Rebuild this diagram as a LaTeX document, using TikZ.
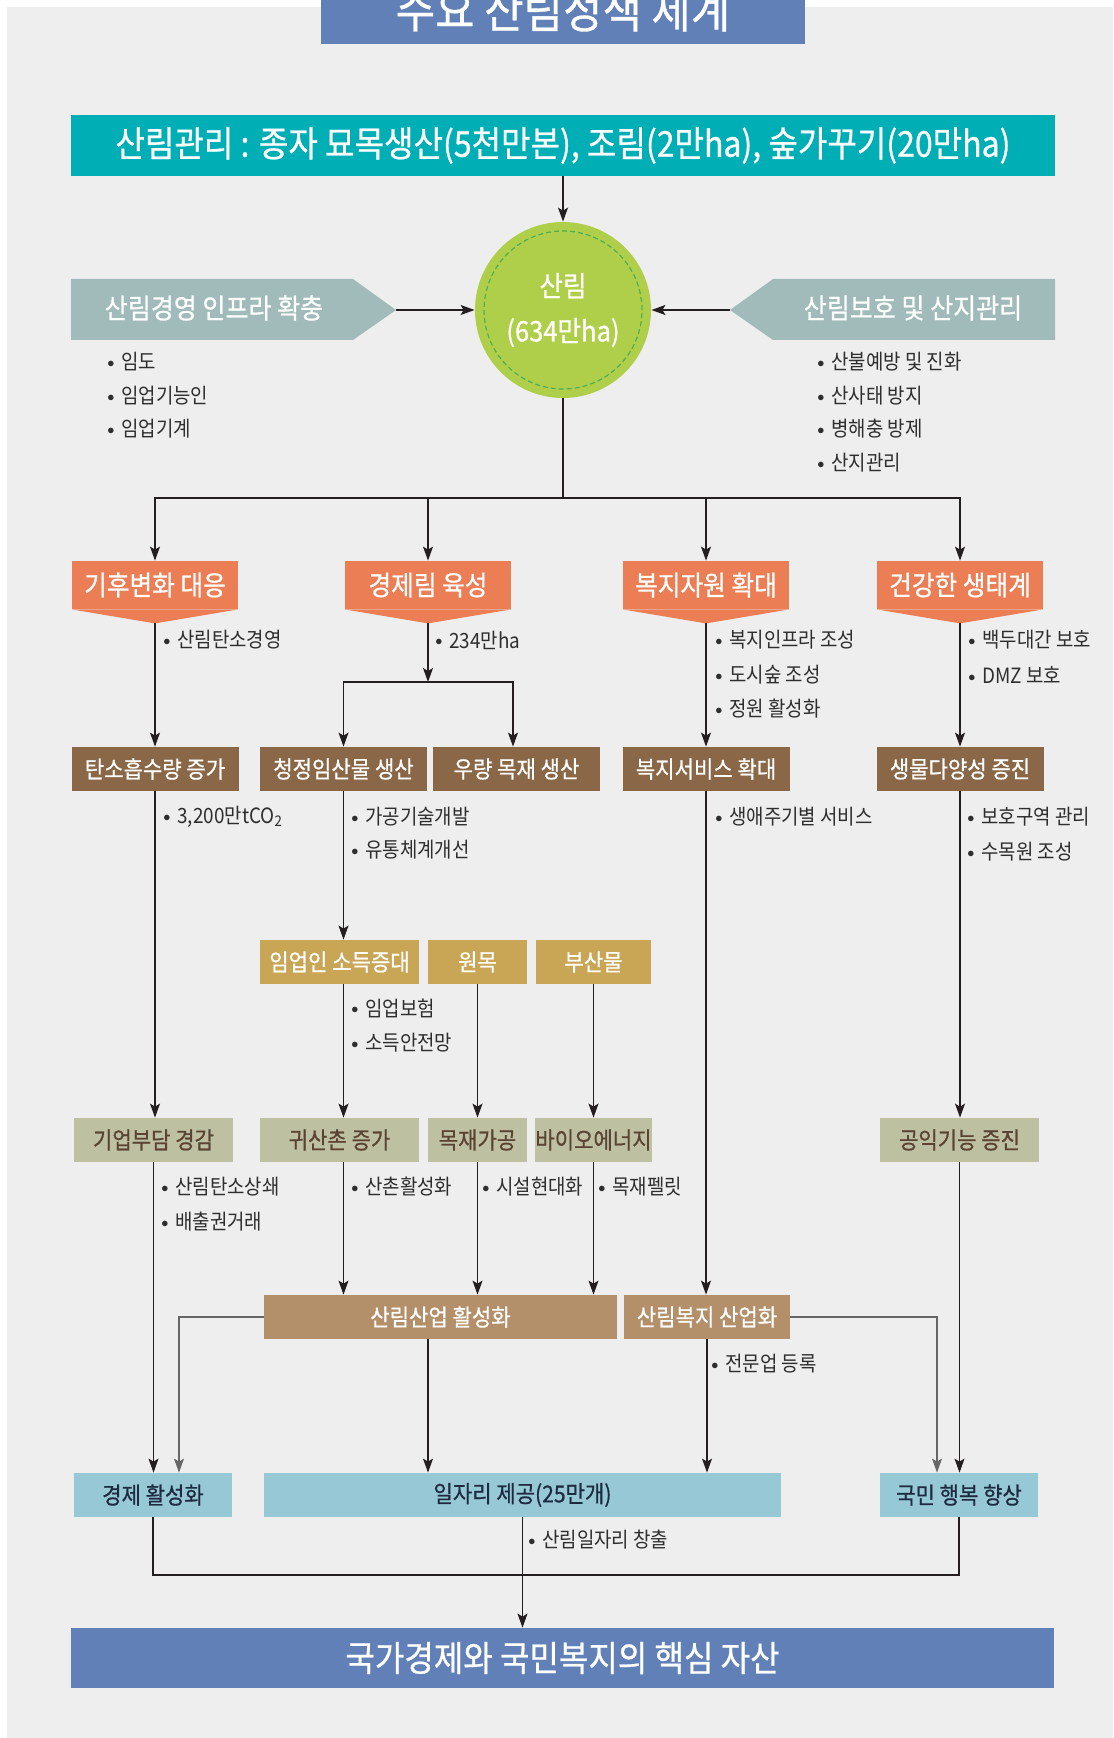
\documentclass[tikz,border=0pt]{standalone}
\usepackage{fontspec}
\newfontfamily\kr[FakeStretch=0.9]{Noto Sans CJK KR}
\newfontfamily\krm[FakeStretch=0.9,FakeBold=0.7]{Noto Sans CJK KR}
\usetikzlibrary{arrows.meta,calc}
\definecolor{cbg}{HTML}{EEEEEE}
\definecolor{ctitle}{HTML}{6180B7}
\definecolor{cteal}{HTML}{00AEB5}
\definecolor{ccircle}{HTML}{AFCF4A}
\definecolor{cdash}{HTML}{4FAE55}
\definecolor{cpent}{HTML}{A0BBBA}
\definecolor{corange}{HTML}{EC7E55}
\definecolor{cbrown}{HTML}{8A6747}
\definecolor{cgold}{HTML}{C9A556}
\definecolor{csage}{HTML}{BDC0A1}
\definecolor{ctan}{HTML}{B38F6A}
\definecolor{cblue}{HTML}{97C8D6}
\definecolor{ctxtbrown}{HTML}{5A4332}
\definecolor{cnavy}{HTML}{1E2A40}
\definecolor{ctext}{HTML}{2E2E2E}
\definecolor{cline}{HTML}{231F20}
\definecolor{cgline}{HTML}{666666}
\newcommand\mybul{\makebox[7pt][l]{\raisebox{0.2ex}{\scalebox{0.65}{$\bullet$}}}}
\begin{document}
\begin{tikzpicture}[x=0.5pt,y=-0.5pt,
  base/.style={inner sep=0pt, align=center},
  rowbox/.style={base, minimum height=22pt, font=\krm\fontsize{11.7}{13}\selectfont},
  brownbox/.style={rowbox, fill=cbrown, text=white},
  goldbox/.style={rowbox, fill=cgold, text=white},
  sagebox/.style={rowbox, fill=csage, text=ctxtbrown},
  tanbox/.style={rowbox, fill=ctan, text=white},
  bluebox/.style={rowbox, fill=cblue, text=cnavy},
  orangebox/.style={base, fill=corange, text=white, minimum height=24pt, minimum width=83pt, font=\krm\fontsize{13.7}{15}\selectfont},
  bigbox/.style={base, text=white, font=\krm\fontsize{17.8}{20}\selectfont},
  penttext/.style={base, text=white, font=\krm\fontsize{13.9}{15}\selectfont},
  bul/.style={anchor=west, inner sep=0pt, text=ctext, font=\kr\fontsize{10.5}{12}\selectfont},
  ln/.style={line width=0.65pt, draw=cline},
  arr/.style={ln, -{Stealth[length=7pt,width=5pt,inset=1.5pt]}},
  garr/.style={arr, draw=cgline}
]
\useasboundingbox (0,0) rectangle (1113,1738);
\clip (0,0) rectangle (1113,1738);
\fill[cbg] (7,7) rectangle (1113,1738);

% title
\node[base, fill=ctitle, minimum width=242pt, minimum height=34pt, text=white, font=\krm\fontsize{23.8}{26}\selectfont] (title) at (563,10) {주요 산림정책 체계};

% top teal
\node[bigbox, fill=cteal, minimum width=492pt, minimum height=30.5pt] (T) at (563,145.5) {산림관리 : 종자 묘목생산(5천만본), 조림(2만ha), 숲가꾸기(20만ha)};

% central circle
\node[base, circle, fill=ccircle, minimum size=88pt, text=white, font=\krm\fontsize{14.2}{22.5}\selectfont] (S) at (563,310) {산림\\(634만ha)};
\draw[cdash, line width=0.6pt, dash pattern=on 2.5pt off 1.5pt] (S.center) circle[radius=39.5pt];

% pentagons
\fill[cpent] (71,279) -- (353,279) -- (396,310) -- (353,340) -- (71,340) -- cycle;
\node[penttext] (LP) at (214,308) {산림경영 인프라 확충};
\coordinate (LPtip) at (396,310);
\fill[cpent] (1055,279) -- (773,279) -- (730,310) -- (773,340) -- (1055,340) -- cycle;
\node[penttext] (RP) at (913,308) {산림보호 및 산지관리};
\coordinate (RPtip) at (730,310);

\node[bul] (l1) at (107,362) {\mybul 임도};
\node[bul] (l2) at (107,396) {\mybul 임업기능인};
\node[bul] (l3) at (107,429) {\mybul 임업기계};
\node[bul] (r1) at (817,362) {\mybul 산불예방 및 진화};
\node[bul] (r2) at (817,396) {\mybul 산사태 방지};
\node[bul] (r3) at (817,429) {\mybul 병해충 방제};
\node[bul] (r4) at (817,463) {\mybul 산지관리};

% orange row
\node[orangebox] (O1) at (155,585) {기후변화 대응};
\node[orangebox] (O2) at (428,585) {경제림 육성};
\node[orangebox] (O3) at (706,585) {복지자원 확대};
\node[orangebox] (O4) at (960,585) {건강한 생태계};
\foreach \o in {O1,O2,O3,O4}{
  \fill[corange] (\o.south west) -- (\o.south east) -- ($(\o.south)+(0,14)$) coordinate (\o p) -- cycle;
}
\node[bul] (o1a) at (163,640) {\mybul 산림탄소경영};
\node[bul] (o2a) at (435,640) {\mybul 234만ha};
\node[bul] (o3a) at (715,640) {\mybul 복지인프라 조성};
\node[bul] (o3b) at (715,675) {\mybul 도시숲 조성};
\node[bul] (o3c) at (715,709) {\mybul 정원 활성화};
\node[bul] (o4a) at (968,640) {\mybul 백두대간 보호};
\node[bul] (o4b) at (968,675) {\mybul DMZ 보호};

% brown row
\node[brownbox, minimum width=83.5pt] (B1) at (155,769) {탄소흡수량 증가};
\node[brownbox, minimum width=83.5pt] (B2) at (343.5,769) {청정임산물 생산};
\node[brownbox, minimum width=83.5pt] (B3) at (516.5,769) {우량 목재 생산};
\node[brownbox, minimum width=83.5pt] (B4) at (706,769) {복지서비스 확대};
\node[brownbox, minimum width=83.5pt] (B5) at (960,769) {생물다양성 증진};
\node[bul] (b1a) at (163,817) {\mybul 3,200만tCO\textsubscript{2}};
\node[bul] (b2a) at (351,817) {\mybul 가공기술개발};
\node[bul] (b2b) at (351,850) {\mybul 유통체계개선};
\node[bul] (b4a) at (715,817) {\mybul 생애주기별 서비스};
\node[bul] (b5a) at (967,817) {\mybul 보호구역 관리};
\node[bul] (b5b) at (967,852) {\mybul 수목원 조성};

% gold row
\node[goldbox, minimum width=79.5pt] (G1) at (339.5,962) {임업인 소득증대};
\node[goldbox, minimum width=49.5pt] (G2) at (477.5,962) {원목};
\node[goldbox, minimum width=57.5pt] (G3) at (593.5,962) {부산물};
\node[bul] (g1a) at (351,1008) {\mybul 임업보험};
\node[bul] (g1b) at (351,1043) {\mybul 소득안전망};

% sage row
\node[sagebox, minimum width=79.5pt] (C1) at (153.5,1140) {기업부담 경감};
\node[sagebox, minimum width=79.5pt] (C2) at (339.5,1140) {귀산촌 증가};
\node[sagebox, minimum width=49.5pt] (C3) at (477.5,1140) {목재가공};
\node[sagebox, minimum width=57.5pt] (C4) at (593.5,1140) {바이오에너지};
\node[sagebox, minimum width=79.5pt] (C5) at (959.5,1140) {공익기능 증진};
\node[bul] (c1a) at (161,1187) {\mybul 산림탄소상쇄};
\node[bul] (c1b) at (161,1222) {\mybul 배출권거래};
\node[bul] (c2a) at (351,1187) {\mybul 산촌활성화};
\node[bul] (c3a) at (482,1187) {\mybul 시설현대화};
\node[bul] (c4a) at (598,1187) {\mybul 목재펠릿};

% tan row
\node[tanbox, minimum width=176.5pt] (D1) at (440.5,1317) {산림산업 활성화};
\node[tanbox, minimum width=83pt] (D2) at (707,1317) {산림복지 산업화};
\node[bul] (d2a) at (711,1364) {\mybul 전문업 등록};

% blue row
\node[bluebox, minimum width=79pt] (E1) at (153,1495) {경제 활성화};
\node[bluebox, minimum width=258.5pt] (E2) at (522.5,1495) {일자리 제공(25만개)};
\node[bluebox, minimum width=79pt] (E3) at (959,1495) {국민 행복 향상};
\node[bul] (e2a) at (528,1540) {\mybul 산림일자리 창출};

% final
\node[bigbox, fill=ctitle, minimum width=491.5pt, minimum height=30pt] (F) at (562.5,1658) {국가경제와 국민복지의 핵심 자산};

% connectors
\draw[arr] (T.south) -- (S.north);
\draw[arr] (LPtip) -- (S.west);
\draw[arr] (RPtip) -- (S.east);
\coordinate (hub) at (563,498);
\draw[ln] (S.south) -- (hub);
\foreach \o in {O1,O2,O3,O4}{ \draw[arr] (hub) -| (\o.north); }

\draw[arr] (O1p) -- (O1p |- B1.north);
\coordinate (split) at (428,682);
\draw[arr] (O2p) -- (split);
\draw[arr] (split) -| (B2.north);
\draw[arr] (split) -| ([xshift=-1.75pt]B3.north);
\draw[arr] (O3p) -- (O3p |- B4.north);
\draw[arr] (O4p) -- (O4p |- B5.north);

\draw[arr] (B1.south) -- (B1.south |- C1.north);
\draw[arr] (B2.south) -- (B2.south |- G1.north);
\draw[arr] (B2.south |- G1.south) -- (B2.south |- C2.north);
\draw[arr] (G2.south) -- (G2.south |- C3.north);
\draw[arr] (G3.south) -- (G3.south |- C4.north);
\draw[arr] (O4p |- B5.south) -- (O4p |- C5.north);

\draw[arr] (B2.south |- C2.south) -- (B2.south |- D1.north);
\draw[arr] (C3.south) -- (C3.south |- D1.north);
\draw[arr] (C4.south) -- (C4.south |- D1.north);
\draw[arr] (O3p |- B4.south) -- (O3p |- D2.north);

\draw[arr] (C1.south) -- (C1.south |- E1.north);
\draw[garr] (D1.west) -| ([xshift=13pt]E1.north);
\draw[arr] ([xshift=-6.25pt]D1.south) -- ([xshift=-6.25pt]D1.south |- E2.north);
\draw[arr] (D2.south) -- (D2.south |- E2.north);
\draw[garr] (D2.east) -| ([xshift=-11pt]E3.north);
\draw[arr] (C5.south) -- (C5.south |- E3.north);

\coordinate (J) at (522.5,1575);
\draw[ln] (E1.south) |- (J) -| (E3.south);
\draw[arr] (E2.south) -- (E2.south |- F.north);
\end{tikzpicture}
\end{document}
